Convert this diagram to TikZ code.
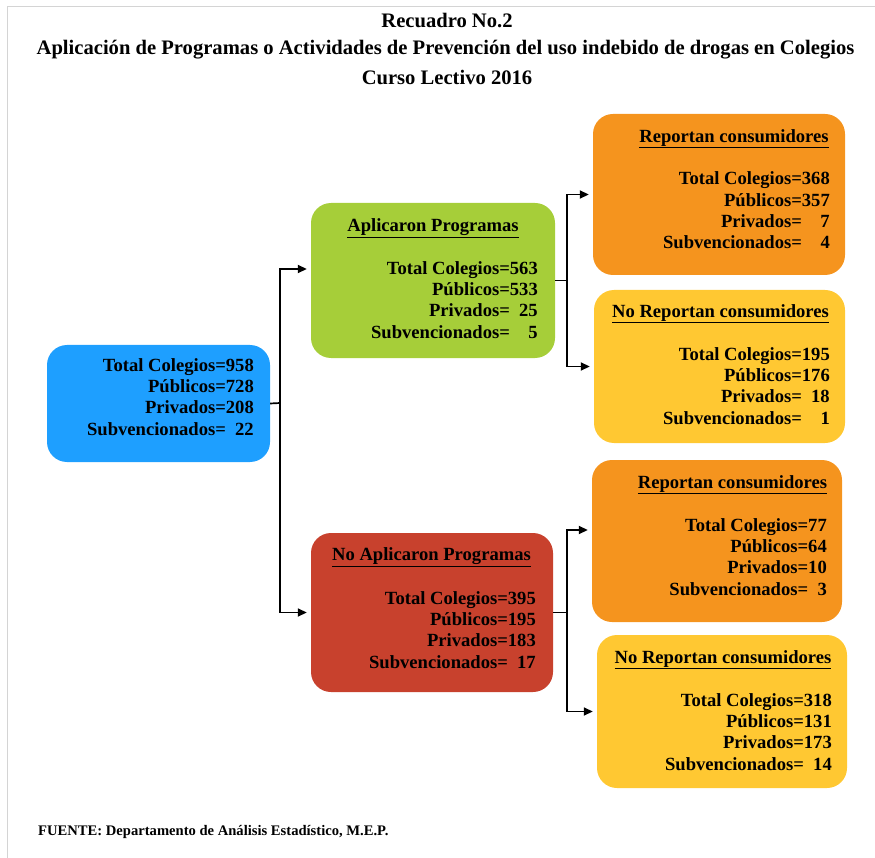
\documentclass[tikz,border=0pt]{standalone}
\usepackage{fontspec}
\setmainfont{Liberation Serif}
\usetikzlibrary{arrows.meta}

\definecolor{azul}{RGB}{30,159,255}
\definecolor{verde}{RGB}{166,206,57}
\definecolor{rojo}{RGB}{200,65,45}
\definecolor{naranja}{RGB}{245,148,30}
\definecolor{amarillo}{RGB}{255,200,50}
\definecolor{marco}{RGB}{212,212,212}

\newcommand{\datos}[4]{%
        \begin{tabular}{@{}r@{}r@{}}
                Total Colegios= & #1\\
                Públicos= & #2\\
                Privados= & #3\\
                Subvencionados= & #4
        \end{tabular}}

\begin{document}
\begin{tikzpicture}[x = 1pt, y = -1pt,
        caja/.style = {rounded corners = 20pt, inner sep = 0pt},
        texto/.style = {font = \bfseries\fontsize{18.6}{21.3}\selectfont, inner sep = 0pt},
        cabeza/.style = {texto, anchor = mid},
        titulo/.style = {font = \bfseries\fontsize{20.6}{24}\selectfont, inner sep = 0pt},
        linea/.style = {line width = 1.7pt},
        flecha/.style = {linea, -{Triangle[length = 9pt, width = 8pt]}, shorten > = 4pt}]
        \useasboundingbox (0,0) rectangle (875,858);
        \draw[marco, line width = 1pt] (7,858) -- (7,7) -- (875,7);

        \node[titulo] (t1) at (447,21) {Recuadro No.2};
        \node[titulo] (t2) at (445.5,50) {Aplicación de Programas o Actividades de Prevención del uso indebido de drogas en Colegios};
        \node[titulo] (t3) at (447,77) {Curso Lectivo 2016};

        % cajas
        \node[caja, fill = azul, minimum width = 223, minimum height = 117] (total) at (158.5,403.5) {};
        \node[caja, fill = verde, minimum width = 244, minimum height = 155] (apl) at (433,280.5) {};
        \node[caja, fill = rojo, minimum width = 242, minimum height = 159] (noapl) at (432,612.5) {};
        \node[caja, fill = naranja, minimum width = 252, minimum height = 161] (rep1) at (719,194.5) {};
        \node[caja, fill = amarillo, minimum width = 251, minimum height = 153] (norep1) at (719.5,366.5) {};
        \node[caja, fill = naranja, minimum width = 250, minimum height = 162] (rep2) at (717,541) {};
        \node[caja, fill = amarillo, minimum width = 250, minimum height = 153] (norep2) at (722,711.5) {};

        % textos
        \node[texto, anchor = east] (d0) at (254,399) {\datos{958}{728}{208}{22}};
        \node[cabeza] (h1) at (433,229) {\underline{Aplicaron Programas}};
        \node[texto, anchor = east] (d1) at (538,302) {\datos{563}{533}{25}{5}};
        \node[cabeza] (h2) at (431.5,558) {\underline{No Aplicaron Programas}};
        \node[texto, anchor = east] (d2) at (536,632) {\datos{395}{195}{183}{17}};
        \node[cabeza] (h3) at (734,140) {\underline{Reportan consumidores}};
        \node[texto, anchor = east] (d3) at (830,212.5) {\datos{368}{357}{7}{4}};
        \node[cabeza] (h4) at (720.5,315) {\underline{No Reportan consumidores}};
        \node[texto, anchor = east] (d4) at (830,388) {\datos{195}{176}{18}{1}};
        \node[cabeza] (h5) at (732.5,486) {\underline{Reportan consumidores}};
        \node[texto, anchor = east] (d5) at (827,559) {\datos{77}{64}{10}{3}};
        \node[cabeza] (h6) at (723,661) {\underline{No Reportan consumidores}};
        \node[texto, anchor = east] (d6) at (832,734) {\datos{318}{131}{173}{14}};

        % conectores
        \coordinate (b0) at (280,403);
        \draw[linea] (total.east) -- (b0);
        \draw[flecha] (b0) |- ([yshift = 11.5pt]apl.west);
        \draw[flecha] (b0) |- (noapl.west);
        \draw[flecha] (apl.east) -- ++(12,0) |- (rep1.west);
        \draw[flecha] (apl.east) -- ++(12,0) |- (norep1.west);
        \draw[flecha] (noapl.east) -- ++(14,0) |- ([yshift = 11pt]rep2.west);
        \draw[flecha] (noapl.east) -- ++(14,0) |- (norep2.west);

        \node[font = \bfseries\fontsize{14.6}{17}\selectfont, inner sep = 0pt, anchor = west] (fuente) at (38,832) {FUENTE: Departamento de Análisis Estadístico, M.E.P.};
\end{tikzpicture}
\end{document}
